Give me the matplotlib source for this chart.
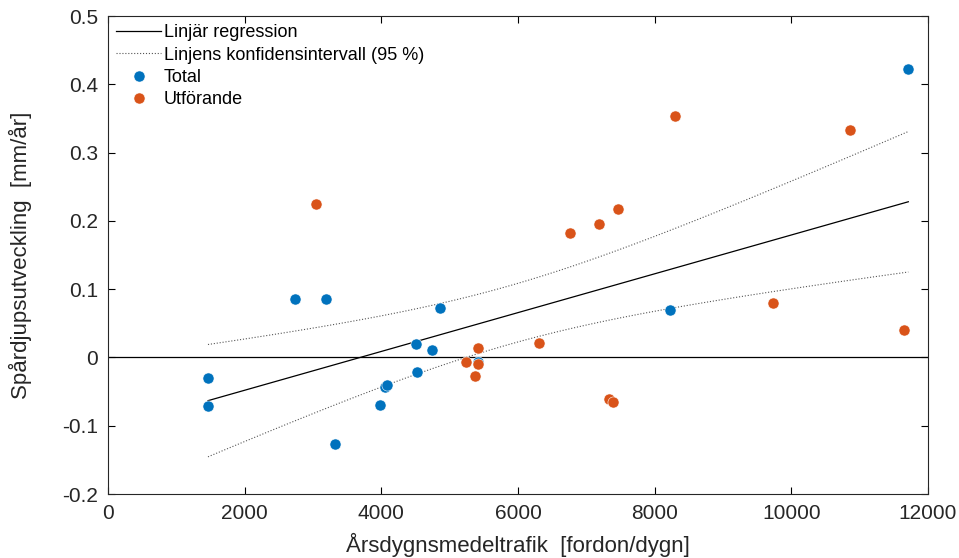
import numpy as np
import matplotlib.pyplot as plt

# Total
total_adt = [1463, 1463, 2737, 3185, 3317, 4854, 4507, 4737, 4517, 4050, 4090, 3985, 5410, 8225, 11712]
total_rut = [-0.030, -0.071, 0.086, 0.086, -0.127, 0.073, 0.020, 0.0105, -0.022, -0.043, -0.041, -0.069, -0.007, 0.069, 0.422]

# Utförande
utf_adt = [3044, 5234, 5417, 5417, 5378, 6302, 7327, 7395, 9732, 11649, 7190, 7458, 8298, 10863, 6761]
utf_rut = [0.2246, -0.0066, 0.0144, -0.009, -0.0275, 0.021, -0.0607, -0.066, 0.079, 0.040, 0.1954, 0.218, 0.353, 0.333, 0.182]

blue = '#0072BD'
orange = '#D95319'

# linear fit over all sections, with 95 % confidence band of the mean
x = np.array(total_adt + utf_adt, dtype=float)
y = np.array(total_rut + utf_rut, dtype=float)
n = len(x)
b, a = np.polyfit(x, y, 1)
resid = y - (a + b * x)
s = np.sqrt(np.sum(resid**2) / (n - 2))
t95 = 2.048  # df = 28
xf = np.linspace(x.min(), x.max(), 100)
yf = a + b * xf
se = s * np.sqrt(1 / n + (xf - x.mean())**2 / np.sum((x - x.mean())**2))

plt.rcParams['font.family'] = ['Liberation Sans', 'DejaVu Sans']

fig = plt.figure(figsize=(9.59, 5.58), dpi=100)
ax = fig.add_axes([108 / 959, 64 / 558, 820 / 959, 478 / 558])

ax.axhline(0, color='black', lw=0.9, zorder=1)
ax.plot(xf, yf, color='black', lw=0.9, label='Linjär regression', zorder=2)
ax.plot(xf, yf + t95 * se, color='#555555', lw=0.8, ls=':', label='Linjens konfidensintervall (95 %)', zorder=2)
ax.plot(xf, yf - t95 * se, color='#555555', lw=0.8, ls=':', zorder=2)
ax.plot(total_adt, total_rut, 'o', color=blue, ms=8, mec='white', mew=0.4, label='Total', zorder=3)
ax.plot(utf_adt, utf_rut, 'o', color=orange, ms=8, mec='white', mew=0.4, label='Utförande', zorder=4)

ax.set_xlim(0, 12000)
ax.set_ylim(-0.2, 0.5)
ax.set_xticks(np.arange(0, 12001, 2000))
ax.set_yticks(np.round(np.arange(-0.2, 0.51, 0.1), 1))
ax.set_yticklabels(['-0.2', '-0.1', '0', '0.1', '0.2', '0.3', '0.4', '0.5'])
ax.tick_params(direction='in', top=True, right=True, length=5, width=0.8, labelsize=15,
               labelcolor='#262626', pad=7)
for sp in ax.spines.values():
    sp.set_linewidth(0.8)
    sp.set_color('#262626')

ax.set_xlabel('Årsdygnsmedeltrafik  [fordon/dygn]', fontsize=16, color='#262626', labelpad=7)
ax.set_ylabel('Spårdjupsutveckling  [mm/år]', fontsize=16, color='#262626', labelpad=22)

ax.legend(loc='upper left', frameon=False, fontsize=13, handlelength=2.5, handletextpad=0.15,
          labelspacing=0.3, borderaxespad=0.25, borderpad=0.2)

fig.savefig('out.png', dpi=100)
